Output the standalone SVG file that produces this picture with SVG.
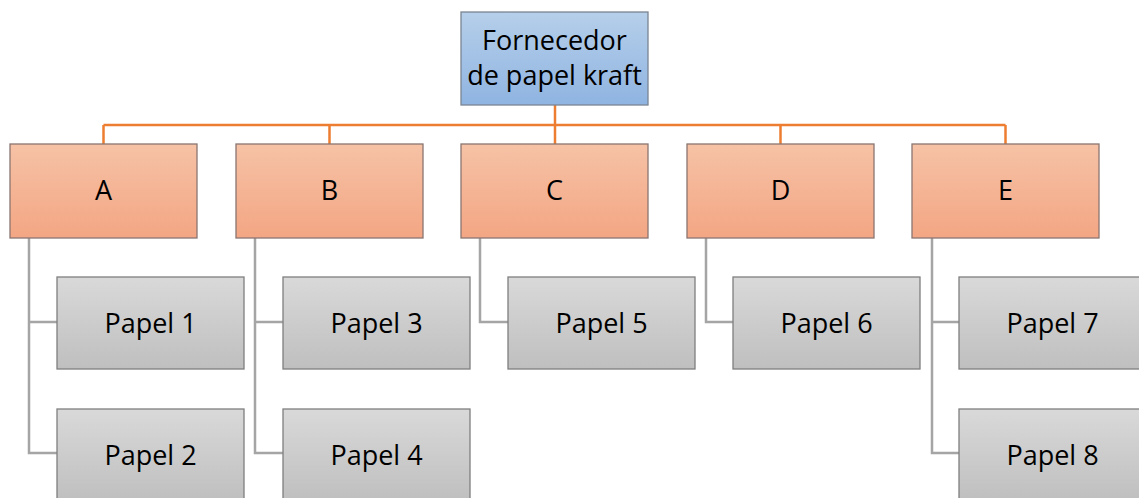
<svg xmlns="http://www.w3.org/2000/svg" width="1139" height="498" viewBox="0 0 1139 498">
<defs>
<linearGradient id="gb" x1="0" y1="0" x2="0" y2="1"><stop offset="0" stop-color="#b6cfea"/><stop offset="1" stop-color="#8fb4e1"/></linearGradient>
<linearGradient id="go" x1="0" y1="0" x2="0" y2="1"><stop offset="0" stop-color="#f6c2a6"/><stop offset="1" stop-color="#f3a683"/></linearGradient>
<linearGradient id="gg" x1="0" y1="0" x2="0" y2="1"><stop offset="0" stop-color="#d9d9d9"/><stop offset="1" stop-color="#bfbfbf"/></linearGradient>
</defs>
<style>
.b{fill:url(#gb);stroke:#7a8592;stroke-width:1.3}
.o{fill:url(#go);stroke:#8a7670;stroke-width:1.3}
.g{fill:url(#gg);stroke:#7f7f7f;stroke-width:1.3}
.t{font-family:"Open Sans","Liberation Sans",sans-serif;font-size:27px;fill:#000;text-anchor:middle}
.ol{stroke:#ed7d31;stroke-width:2.5;fill:none}
.gl{stroke:#a5a5a5;stroke-width:2.5;fill:none}
</style>
<rect width="1139" height="498" fill="#fff"/>
<g id="connectors">
<path class="ol" d="M555 105V144M103.5 125H1005.5M103.5 125V144M329.5 125V144M780.5 125V144M1005.5 125V144"/>
<path class="gl" d="M29 238V453H57M29 322H57M255 238V453H283M255 322H283M480 238V322H508M706 238V322H733M932 238V453H959M932 322H959"/>
</g>
<g id="n0"><rect class="b" x="461" y="12" width="187" height="93"/><text class="t" x="554.5" y="50">Fornecedor</text><text class="t" x="554.5" y="85">de papel kraft</text></g>
<g id="nA"><rect class="o" x="10" y="144" width="187" height="94"/><text class="t" x="103.5" y="200">A</text></g>
<g id="nB"><rect class="o" x="236" y="144" width="187" height="94"/><text class="t" x="329.5" y="200">B</text></g>
<g id="nC"><rect class="o" x="461" y="144" width="187" height="94"/><text class="t" x="554.5" y="200">C</text></g>
<g id="nD"><rect class="o" x="687" y="144" width="187" height="94"/><text class="t" x="780.5" y="200">D</text></g>
<g id="nE"><rect class="o" x="912" y="144" width="187" height="94"/><text class="t" x="1005.5" y="200">E</text></g>
<g id="p1"><rect class="g" x="57" y="277" width="187" height="92"/><text class="t" x="150.5" y="333">Papel 1</text></g>
<g id="p2"><rect class="g" x="57" y="409" width="187" height="92"/><text class="t" x="150.5" y="465">Papel 2</text></g>
<g id="p3"><rect class="g" x="283" y="277" width="187" height="92"/><text class="t" x="376.5" y="333">Papel 3</text></g>
<g id="p4"><rect class="g" x="283" y="409" width="187" height="92"/><text class="t" x="376.5" y="465">Papel 4</text></g>
<g id="p5"><rect class="g" x="508" y="277" width="187" height="92"/><text class="t" x="601.5" y="333">Papel 5</text></g>
<g id="p6"><rect class="g" x="733" y="277" width="187" height="92"/><text class="t" x="826.5" y="333">Papel 6</text></g>
<g id="p7"><rect class="g" x="959" y="277" width="187" height="92"/><text class="t" x="1052.5" y="333">Papel 7</text></g>
<g id="p8"><rect class="g" x="959" y="409" width="187" height="92"/><text class="t" x="1052.5" y="465">Papel 8</text></g>
</svg>
